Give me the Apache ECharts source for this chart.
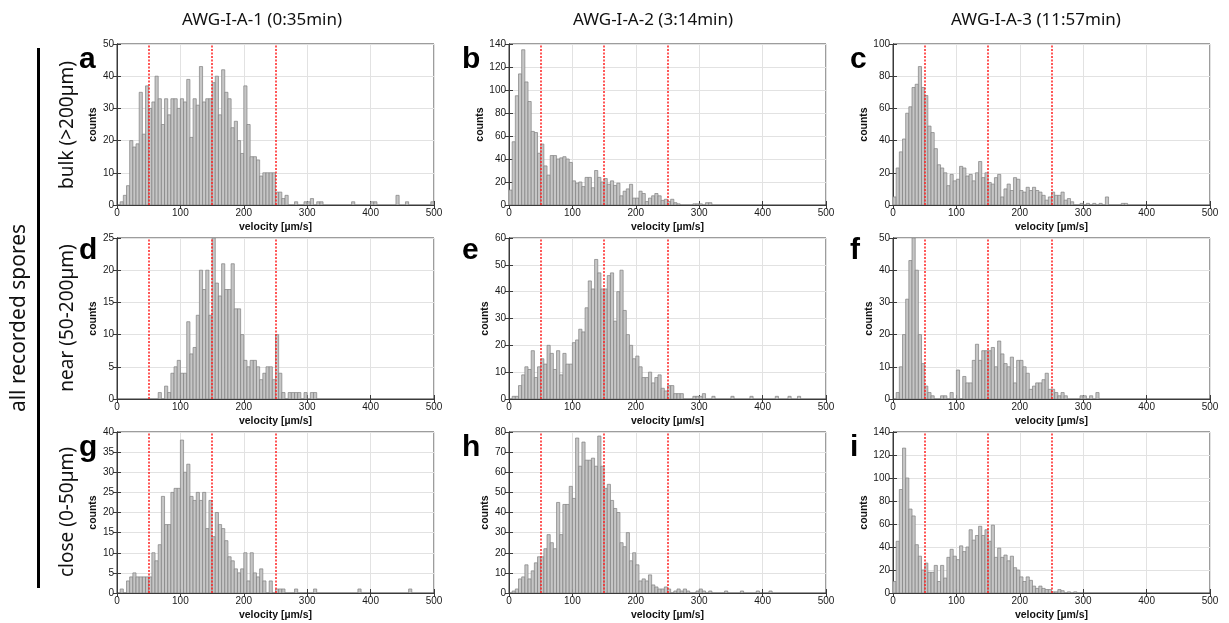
<!DOCTYPE html>
<html><head><meta charset="utf-8">
<script src="https://cdn.jsdelivr.net/npm/echarts@6.0.0/dist/echarts.min.js"></script>
<style>html,body{margin:0;padding:0;background:#fff}#c{width:1229px;height:623px}</style>
</head><body><div id="c"></div><script>
// ---------- data ----------
const binWidth = 5; // µm/s per histogram bin, bins start at 0
const columnTitles = ['AWG-I-A-1 (0:35min)', 'AWG-I-A-2 (3:14min)', 'AWG-I-A-3 (11:57min)'];
const rowLabels = ['bulk (>200µm)', 'near (50-200µm)', 'close (0-50µm)'];
const sideLabel = 'all recorded spores';
const panelLetters = ['a','b','c','d','e','f','g','h','i'];
const yMax  = [50, 140, 100, 25, 60, 50, 40, 80, 140];
const yStep = [10, 20, 20, 5, 10, 10, 5, 10, 20];
const xMin = 0, xMax = 500, xStep = 100;
const markerVelocities = [50, 150, 250];
const xName = 'velocity [µm/s]';
const yName = 'counts';

const countsA = [0,1,3,6,20,18,19,35,22,37, 30,32,40,33,25,33,28,33,33,30, 33,32,39,21,33,31,43,32,33,33, 38,40,28,42,35,33,24,26,20,16, 37,25,15,15,14,9,10,10,10,10, 4,4,2,3,0,0,1,0,0,1, 1,2,0,1,1,0,0,0,0,0, 0,0,0,0,1,0,0,0,0,0, 1,1,0,0,0,0,0,0,3,0, 0,1,0,0,0,0,0,0,0,1];
const countsB = [13,55,95,114,135,107,90,64,63,45, 53,34,26,43,43,40,41,42,40,37, 21,19,20,16,24,24,15,30,24,20, 23,18,21,17,19,8,12,14,18,6, 6,12,10,3,6,8,10,8,4,5, 3,5,2,1,0,0,0,0,1,1, 1,0,2,2,0,0,0,0,0,0, 0,0,0,0,0,0,0,0,0,0, 0,0,0,0,0,0,0,0,0,0, 0,0,0,0,0,0,0,0,0,0];
const countsC = [5,23,33,41,57,61,73,75,86,73, 68,49,45,35,25,23,20,12,19,15, 16,24,23,18,19,15,20,27,17,20, 14,13,17,19,5,10,13,9,17,16, 9,8,11,9,11,9,8,6,3,5, 8,6,6,8,3,4,2,0,0,1, 0,1,0,1,0,1,0,5,0,0, 0,0,1,1,0,0,0,0,0,0, 0,0,0,0,0,0,0,0,0,0, 0,0,0,0,0,0,0,0,0,0];
const countsD = [0,0,0,0,0,0,0,0,0,0, 0,0,0,1,0,2,1,4,5,6, 4,4,12,7,8,13,20,17,20,13, 25,18,16,21,17,17,21,14,14,10, 6,5,6,6,5,3,4,5,5,3, 10,4,1,0,1,1,1,1,0,1, 0,1,1,0,0,0,0,0,0,0, 0,0,0,0,0,0,0,0,0,0, 0,0,0,0,0,0,0,0,0,0, 0,0,0,0,0,0,0,0,0,0];
const countsE = [0,1,1,5,9,12,11,18,8,12, 15,13,20,17,11,18,9,17,13,13, 21,22,26,25,34,44,41,52,47,41, 41,46,47,29,40,48,33,24,20,15, 16,12,8,8,10,6,8,9,4,3, 5,5,2,2,2,0,0,0,1,1, 1,2,0,0,1,0,0,0,0,0, 1,0,0,0,0,0,1,0,0,0, 0,0,0,0,1,0,0,0,1,0, 0,1,0,0,0,0,0,0,0,0];
const countsF = [0,2,10,20,31,43,50,40,20,11, 4,2,1,0,0,1,1,0,2,0, 9,0,7,5,5,12,17,12,15,15, 15,16,10,18,14,11,10,13,5,12, 12,10,8,3,4,5,5,6,8,3, 3,2,1,2,1,0,0,0,0,1, 1,0,1,0,2,0,0,0,0,0, 0,0,0,0,0,0,0,0,0,0, 0,0,0,0,0,0,0,0,0,0, 0,0,0,0,0,0,0,0,0,0];
const countsG = [0,1,0,3,4,5,4,4,4,4, 4,10,8,12,24,17,17,25,26,26, 38,30,32,24,23,25,23,25,16,23, 14,20,17,16,13,9,8,6,5,6, 10,3,10,5,4,6,3,0,3,0, 1,1,1,0,0,0,1,0,0,0, 0,0,1,0,0,0,0,0,0,0, 0,0,0,0,0,0,1,0,0,0, 0,0,0,0,0,0,0,0,0,0, 0,0,1,0,0,0,0,0,0,0];
const countsH = [0,1,2,7,8,14,7,11,15,18, 18,22,29,25,22,45,29,44,44,53, 47,77,63,75,66,66,67,63,78,63, 52,54,46,42,40,25,23,30,16,20, 14,6,7,6,9,4,3,2,2,3, 2,0,1,2,1,2,1,0,0,1, 2,1,0,1,0,0,0,0,1,0, 0,0,0,1,0,0,0,0,1,0, 0,0,1,0,0,0,0,0,0,0, 0,0,0,0,0,0,0,0,0,0];
const countsI = [10,45,90,126,100,73,67,42,32,20, 26,18,18,24,10,24,13,31,38,32, 29,41,36,40,55,46,50,58,50,55, 45,59,31,39,31,33,28,32,22,20, 14,10,14,11,6,4,6,4,3,3, 1,1,3,2,0,1,0,1,0,0, 0,0,0,0,0,0,0,0,0,0, 0,0,0,0,0,0,0,0,0,0, 0,0,0,0,0,0,0,0,0,0, 0,0,0,0,0,0,0,0,0,0];
const panelCounts = [countsA, countsB, countsC, countsD, countsE, countsF, countsG, countsH, countsI];

// ---------- layout ----------
const colLeft = [117, 509, 893];
const rowTop = [44, 238, 432];
const plotW = 317, plotH = 161;
const titleX = [262, 653, 1036];
const letterX = [79, 462, 850];
const letterY = [45, 236, 433];
const rowLabelY = [125, 318, 512];

const chart = echarts.init(document.getElementById('c'), null, {renderer: 'canvas'});
const axisColor = '#3a3a3a';
const gridColor = '#e2e2e2';
const tickFont = 'Liberation Sans, Arial, sans-serif';

const grids = [], xAxes = [], yAxes = [], series = [], xTop = [], yRight = [];
for (let k = 0; k < 9; k++) {
  const r = Math.floor(k / 3), c = k % 3;
  const wideLabels = yMax[k] >= 100;
  grids.push({left: colLeft[c], top: rowTop[r], width: plotW, height: plotH,
    show: true, borderColor: axisColor, borderWidth: 1, backgroundColor: '#fff'});
  xAxes.push({gridIndex: k, type: 'value', min: xMin, max: xMax, interval: xStep,
    axisLine: {show: true, onZero: false, lineStyle: {color: axisColor}},
    axisTick: {show: true, inside: true, length: 4, lineStyle: {color: axisColor}},
    axisLabel: {fontSize: 10, color: '#1a1a1a', margin: 3, fontFamily: tickFont},
    splitLine: {show: true, lineStyle: {color: gridColor}},
    name: xName, nameLocation: 'middle', nameGap: 17,
    nameTextStyle: {fontWeight: 'bold', fontSize: 10.5, color: '#111', fontFamily: tickFont}});
  xTop.push({gridIndex: k, type: 'value', position: 'top', min: xMin, max: xMax, interval: xStep,
    axisLine: {show: true, lineStyle: {color: axisColor}},
    axisTick: {show: true, inside: true, length: 4, lineStyle: {color: axisColor}},
    axisLabel: {show: false}, splitLine: {show: false}});
  yAxes.push({gridIndex: k, type: 'value', min: 0, max: yMax[k], interval: yStep[k],
    axisLine: {show: true, lineStyle: {color: axisColor}},
    axisTick: {show: true, inside: true, length: 4, lineStyle: {color: axisColor}},
    axisLabel: {fontSize: 10, color: '#1a1a1a', margin: 3, fontFamily: tickFont},
    splitLine: {show: true, lineStyle: {color: gridColor}},
    name: yName, nameLocation: 'middle', nameGap: wideLabels ? 13 : 9,
    nameTextStyle: {fontWeight: 'bold', fontSize: 10.5, color: '#111', fontFamily: tickFont}});
  yRight.push({gridIndex: k, type: 'value', position: 'right', min: 0, max: yMax[k], interval: yStep[k],
    axisLine: {show: true, lineStyle: {color: axisColor}},
    axisTick: {show: true, inside: true, length: 4, lineStyle: {color: axisColor}},
    axisLabel: {show: false}, splitLine: {show: false}});

  const data = [];
  panelCounts[k].forEach((v, i) => { if (v > 0) data.push([i * binWidth, (i + 1) * binWidth, v]); });
  series.push({
    type: 'custom', xAxisIndex: k, yAxisIndex: k, data: data, clip: true,
    encode: {x: [0, 1], y: 2},
    renderItem: function (params, api) {
      const p0 = api.coord([api.value(0), api.value(2)]);
      const p1 = api.coord([api.value(1), 0]);
      return {type: 'rect', shape: {x: p0[0], y: p0[1], width: p1[0] - p0[0], height: p1[1] - p0[1]},
        style: {fill: '#c6c6c6', stroke: '#808080', lineWidth: 0.7}};
    },
    markLine: {silent: true, symbol: ['none', 'none'], label: {show: false}, animation: false,
      lineStyle: {color: '#ff2020', width: 1.5, type: [2, 1.5]},
      data: markerVelocities.map(v => ({xAxis: v}))}
  });
}

const graphics = [];
columnTitles.forEach((t, i) => graphics.push({type: 'text', x: titleX[i], y: 20,
  style: {text: t, font: '17px "Noto Sans", sans-serif', fill: '#111', textAlign: 'center', textVerticalAlign: 'middle'}}));
panelLetters.forEach((t, k) => graphics.push({type: 'text', x: letterX[k % 3], y: letterY[Math.floor(k / 3)],
  style: {text: t, font: 'bold 30px "Liberation Sans", Arial, sans-serif', fill: '#000', textVerticalAlign: 'top'}}));
rowLabels.forEach((t, i) => graphics.push({type: 'text', x: 68, y: rowLabelY[i], rotation: Math.PI / 2,
  style: {text: t, font: '19px "Noto Sans", sans-serif', fill: '#111', textAlign: 'center', textVerticalAlign: 'middle'}}));
graphics.push({type: 'text', x: 19, y: 318, rotation: Math.PI / 2,
  style: {text: sideLabel, font: '21px "Noto Sans", sans-serif', fill: '#111', textAlign: 'center', textVerticalAlign: 'middle'}});
graphics.push({type: 'rect', shape: {x: 37, y: 48, width: 3, height: 540}, style: {fill: '#000'}});

chart.setOption({
  animation: false,
  backgroundColor: '#fff',
  grid: grids,
  xAxis: xAxes.concat(xTop),
  yAxis: yAxes.concat(yRight),
  series: series,
  graphic: graphics
});
</script></body></html>
